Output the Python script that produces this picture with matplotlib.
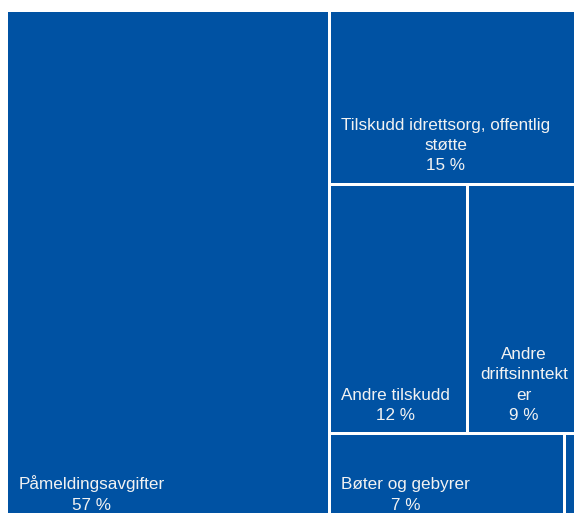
import matplotlib
matplotlib.use("Agg")
import matplotlib.pyplot as plt
from matplotlib.patches import Rectangle

# ---- data ----
labels = ["Påmeldingsavgifter",
          "Tilskudd idrettsorg, offentlig støtte",
          "Andre tilskudd",
          "Andre driftsinntekter",
          "Bøter og gebyrer",
          "Andre inntekter"]
values = [56.6, 14.7, 11.84, 9.26, 7.23, 0.37]
# layout: item 0 is the left column; the rest are stacked rows in the right column
left_items = [0]
right_rows = [[1], [2, 3], [4, 5]]

# ---- style ----
BLUE = "#0052A3"
TXT = "#F2F2F2"
FAM = ["Liberation Sans", "DejaVu Sans"]
FS = 12.3
LS = 1.43
GAP = 3.0          # px white gap between tiles
PAD_L, PAD_R, PAD_B = 10.5, 5, 12.5

fig = plt.figure(figsize=(5.74, 5.13), dpi=100)
fig.patch.set_facecolor("white")
ax = fig.add_axes([6.5 / 574, -10.5 / 513, 570 / 574, 513 / 513])
ax.set_xlim(0, 1)
ax.set_ylim(1, 0)
ax.axis("off")

total = sum(values)
rects = {}
left_frac = sum(values[i] for i in left_items) / total
rects[0] = (0.0, 0.0, left_frac, 1.0)
right_total = total - sum(values[i] for i in left_items)
y = 0.0
for row in right_rows:
    rsum = sum(values[i] for i in row)
    h = rsum / right_total
    x = left_frac
    for i in row:
        w = (1 - left_frac) * values[i] / rsum
        rects[i] = (x, y, w, h)
        x += w
    y += h

renderer = fig.canvas.get_renderer()
bb = ax.get_window_extent(renderer)
ax_w_px, ax_h_px = bb.width, bb.height
dx = GAP / 2 / ax_w_px
dy = GAP / 2 / ax_h_px


def text_w(s):
    t = fig.text(0, 0, s, fontsize=FS, family=FAM)
    w = t.get_window_extent(renderer).width
    t.remove()
    return w


def wrap(s, avail):
    lines = []
    cur = ""
    for word in s.split(" "):
        cand = word if not cur else cur + " " + word
        if text_w(cand) <= avail:
            cur = cand
            continue
        if cur:
            lines.append(cur)
        cur = ""
        piece = ""
        for ch in word:
            if text_w(piece + ch) <= avail or not piece:
                piece += ch
            else:
                lines.append(piece)
                piece = ch
        cur = piece
    if cur:
        lines.append(cur)
    return lines


for i, (x0, y0, w, h) in rects.items():
    bx, by, bw, bh = x0 + dx, y0 + dy, w - 2 * dx, h - 2 * dy
    ax.add_patch(Rectangle((bx, by), bw, bh, facecolor=BLUE, edgecolor="none"))
    wpx = bw * ax_w_px
    if wpx < 40:
        continue
    lines = wrap(labels[i], wpx - PAD_L - PAD_R)
    pct = f"{round(values[i] / total * 100)} %"
    ax.annotate("\n".join(lines + [pct]), xy=(bx, by + bh),
                xytext=(PAD_L, PAD_B), textcoords="offset pixels",
                ha="left", va="baseline", multialignment="center",
                color=TXT, fontsize=FS, family=FAM, linespacing=LS)

fig.savefig("out.png", dpi=100)
